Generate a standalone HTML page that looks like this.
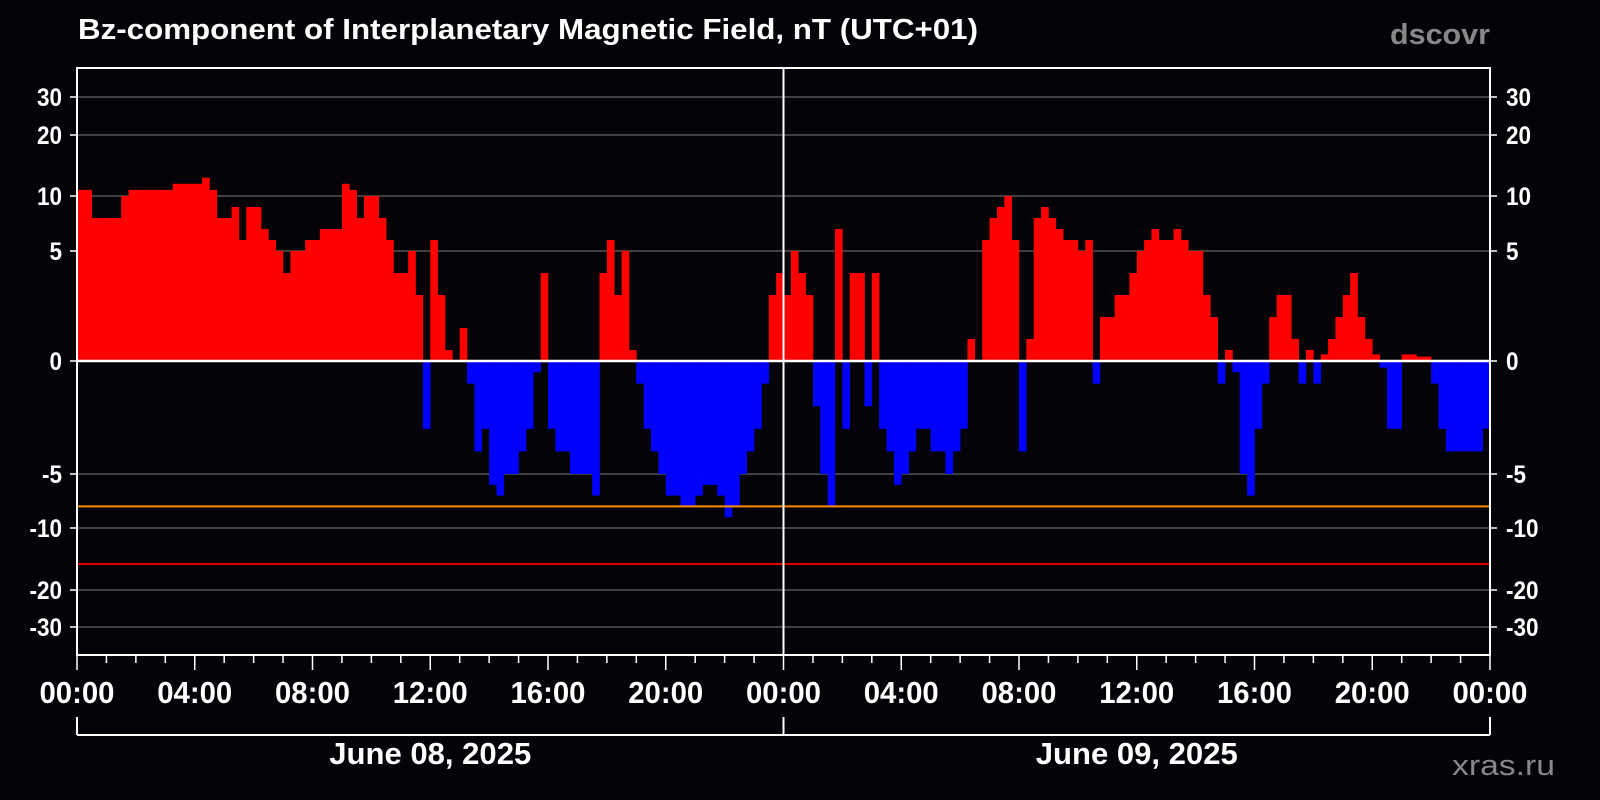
<!DOCTYPE html>
<html><head><meta charset="utf-8"><style>
body{margin:0;background:#050307;}
svg{display:block;font-family:"Liberation Sans",sans-serif;}
</style></head><body>
<svg id="chart" width="1600" height="800">
<rect width="1600" height="800" fill="#050307"/>
<text x="78" y="39" fill="#fff" font-size="29" font-weight="bold" textLength="900" lengthAdjust="spacingAndGlyphs">Bz-component of Interplanetary Magnetic Field, nT (UTC+01)</text>
<text x="1390" y="44" fill="#888" font-size="29" font-weight="bold" textLength="100" lengthAdjust="spacingAndGlyphs">dscovr</text>
<text x="1452" y="775" fill="#888" font-size="29" textLength="103" lengthAdjust="spacingAndGlyphs">xras.ru</text>
<g id="grid"></g><g id="bars"></g><g id="over"></g><g id="axes"></g>
</svg>
<script>
const yTicks=[30,20,10,5,0,-5,-10,-20,-30];
const xTickLabels=["00:00","04:00","08:00","12:00","16:00","20:00","00:00","04:00","08:00","12:00","16:00","20:00","00:00"];
const dayLabels=["June 08, 2025","June 09, 2025"];
const thresholds=[-8,-15.8];
const bzDay1=[11,11,8,8, 8,8,10,11, 11,11,11,11, 11,12,12,12, 12,13,11,8, 8,9,6,9, 9,7,6,5, 4,5,5,6, 6,7,7,7, 12,11,8,10, 10,8,6,4, 4,5,3,-3, 6,3,0.5,0, 1.5,-1,-4,-3, -6,-7,-5,-5, -4,-3,-0.5,4, -3,-4,-4,-5, -5,-5,-7,4, 6,3,5,0.5, -1,-3,-4,-5, -7,-7,-8,-8, -7,-6,-6,-7, -9,-8,-5,-4, -3,-1,3,4];
const bzDay2=[3,5,4,3, -2,-5,-8,7, -3,4,4,-2, 4,-3,-4,-6, -5,-4,-3,-3, -4,-4,-5,-4, -3,1,0,6, 8,9,10,6, -4,1,8,9, 8,7,6,6, 5,6,-1,2, 2,3,3,4, 5,6,7,6, 6,7,6,5, 5,3,2,-1, 0.5,-0.5,-5,-7, -3,-1,2,3, 3,1,-1,0.5, -1,0.3,1,2, 3,4,2,1, 0.3,-0.3,-3,-3, 0.3,0.3,0.2,0.2, -1,-3,-4,-4, -4,-4,-4,-3];
const bz=bzDay1.concat(bzDay2);
const NS="http://www.w3.org/2000/svg";
const X0=77,X1=1490,Y0=68,Y1=655;
const sv=[-40,-30,-20,-10,-5,0,5,10,20,30,40],sp=[655,627,590,528,474,361,251,196,135,97,68];
function yS(v){v=Math.max(-40,Math.min(40,v));for(let i=0;i<sv.length-1;i++){if(v<=sv[i+1]){return sp[i]+(v-sv[i])/(sv[i+1]-sv[i])*(sp[i+1]-sp[i]);}}return Y0;}
function xS(h){return X0+h/48*(X1-X0);}
function mk(tag,attrs,parent,txt){const e=document.createElementNS(NS,tag);for(const k in attrs)e.setAttribute(k,attrs[k]);if(txt!==undefined)e.textContent=txt;parent.appendChild(e);return e;}
function squeeze(el,f){const w=el.getComputedTextLength();el.setAttribute('textLength',w*f);el.setAttribute('lengthAdjust','spacingAndGlyphs');}
function fit(el,w){el.setAttribute('textLength',w);el.setAttribute('lengthAdjust','spacingAndGlyphs');}
const grid=document.getElementById('grid'),bars=document.getElementById('bars'),over=document.getElementById('over'),axes=document.getElementById('axes');
yTicks.forEach(v=>{const y=yS(v);
 if(v!==0){const l=mk('line',{x1:X0,x2:X1,y1:y,y2:y,stroke:'#555','stroke-width':1.5},grid);
 
 }
 const t1=mk('text',{x:62,y:y+9,fill:'#fff','font-size':25,'font-weight':'bold','text-anchor':'end'},axes,String(v));
 
 
 squeeze(t1,0.9);
 const t2=mk('text',{x:1506,y:y+9,fill:'#fff','font-size':25,'font-weight':'bold'},axes,String(v));
 
 
 squeeze(t2,0.9);
 mk('line',{x1:X0-7,x2:X0,y1:y,y2:y,stroke:'#fff','stroke-width':1.5},axes);
 mk('line',{x1:X1,x2:X1+7,y1:y,y2:y,stroke:'#fff','stroke-width':1.5},axes);
});
const step=48/bz.length;
bz.forEach((v,i)=>{const x=xS(i*step),w=xS((i+1)*step)-x;const y=yS(v),z=yS(0);
 const r=mk('rect',{x:x,y:Math.min(y,z),width:w+0.3,height:Math.abs(z-y),fill:v>=0?'#ff0000':'#0000ff'},bars);
 
 
});
const thrColors=['#ff8c00','#e00000'];
thresholds.forEach((v,i)=>{const l=mk('line',{x1:X0,x2:X1,y1:yS(v),y2:yS(v),stroke:thrColors[i],'stroke-width':2},over);
 
 });
const zl=mk('line',{x1:X0,x2:X1,y1:yS(0),y2:yS(0),stroke:'#fff','stroke-width':2.5},over);


const ml=mk('line',{x1:xS(24),x2:xS(24),y1:Y0,y2:Y1,stroke:'#fff','stroke-width':2},over);


const fr=mk('rect',{x:X0,y:Y0,width:X1-X0,height:Y1-Y0,fill:'none',stroke:'#fff','stroke-width':2},axes);


for(let h=0;h<=48;h++){const x=xS(h);mk('line',{x1:x,x2:x,y1:Y1,y2:Y1+(h%4===0?15:8),stroke:'#fff','stroke-width':1.5},axes);}
xTickLabels.forEach((s,i)=>{const t=mk('text',{x:xS(i*4),y:703,fill:'#fff','font-size':31,'font-weight':'bold','text-anchor':'middle'},axes,s);
 
 
 fit(t,75);});
mk('line',{x1:X0,x2:X1,y1:735,y2:735,stroke:'#fff','stroke-width':2},axes);
[0,24,48].forEach(h=>mk('line',{x1:xS(h),x2:xS(h),y1:717,y2:735,stroke:'#fff','stroke-width':2},axes));
dayLabels.forEach((s,i)=>{const t=mk('text',{x:xS(i*24+12),y:764,fill:'#fff','font-size':31,'font-weight':'bold','text-anchor':'middle'},axes,s);
 
 
 fit(t,202);});
</script>
</body></html>
